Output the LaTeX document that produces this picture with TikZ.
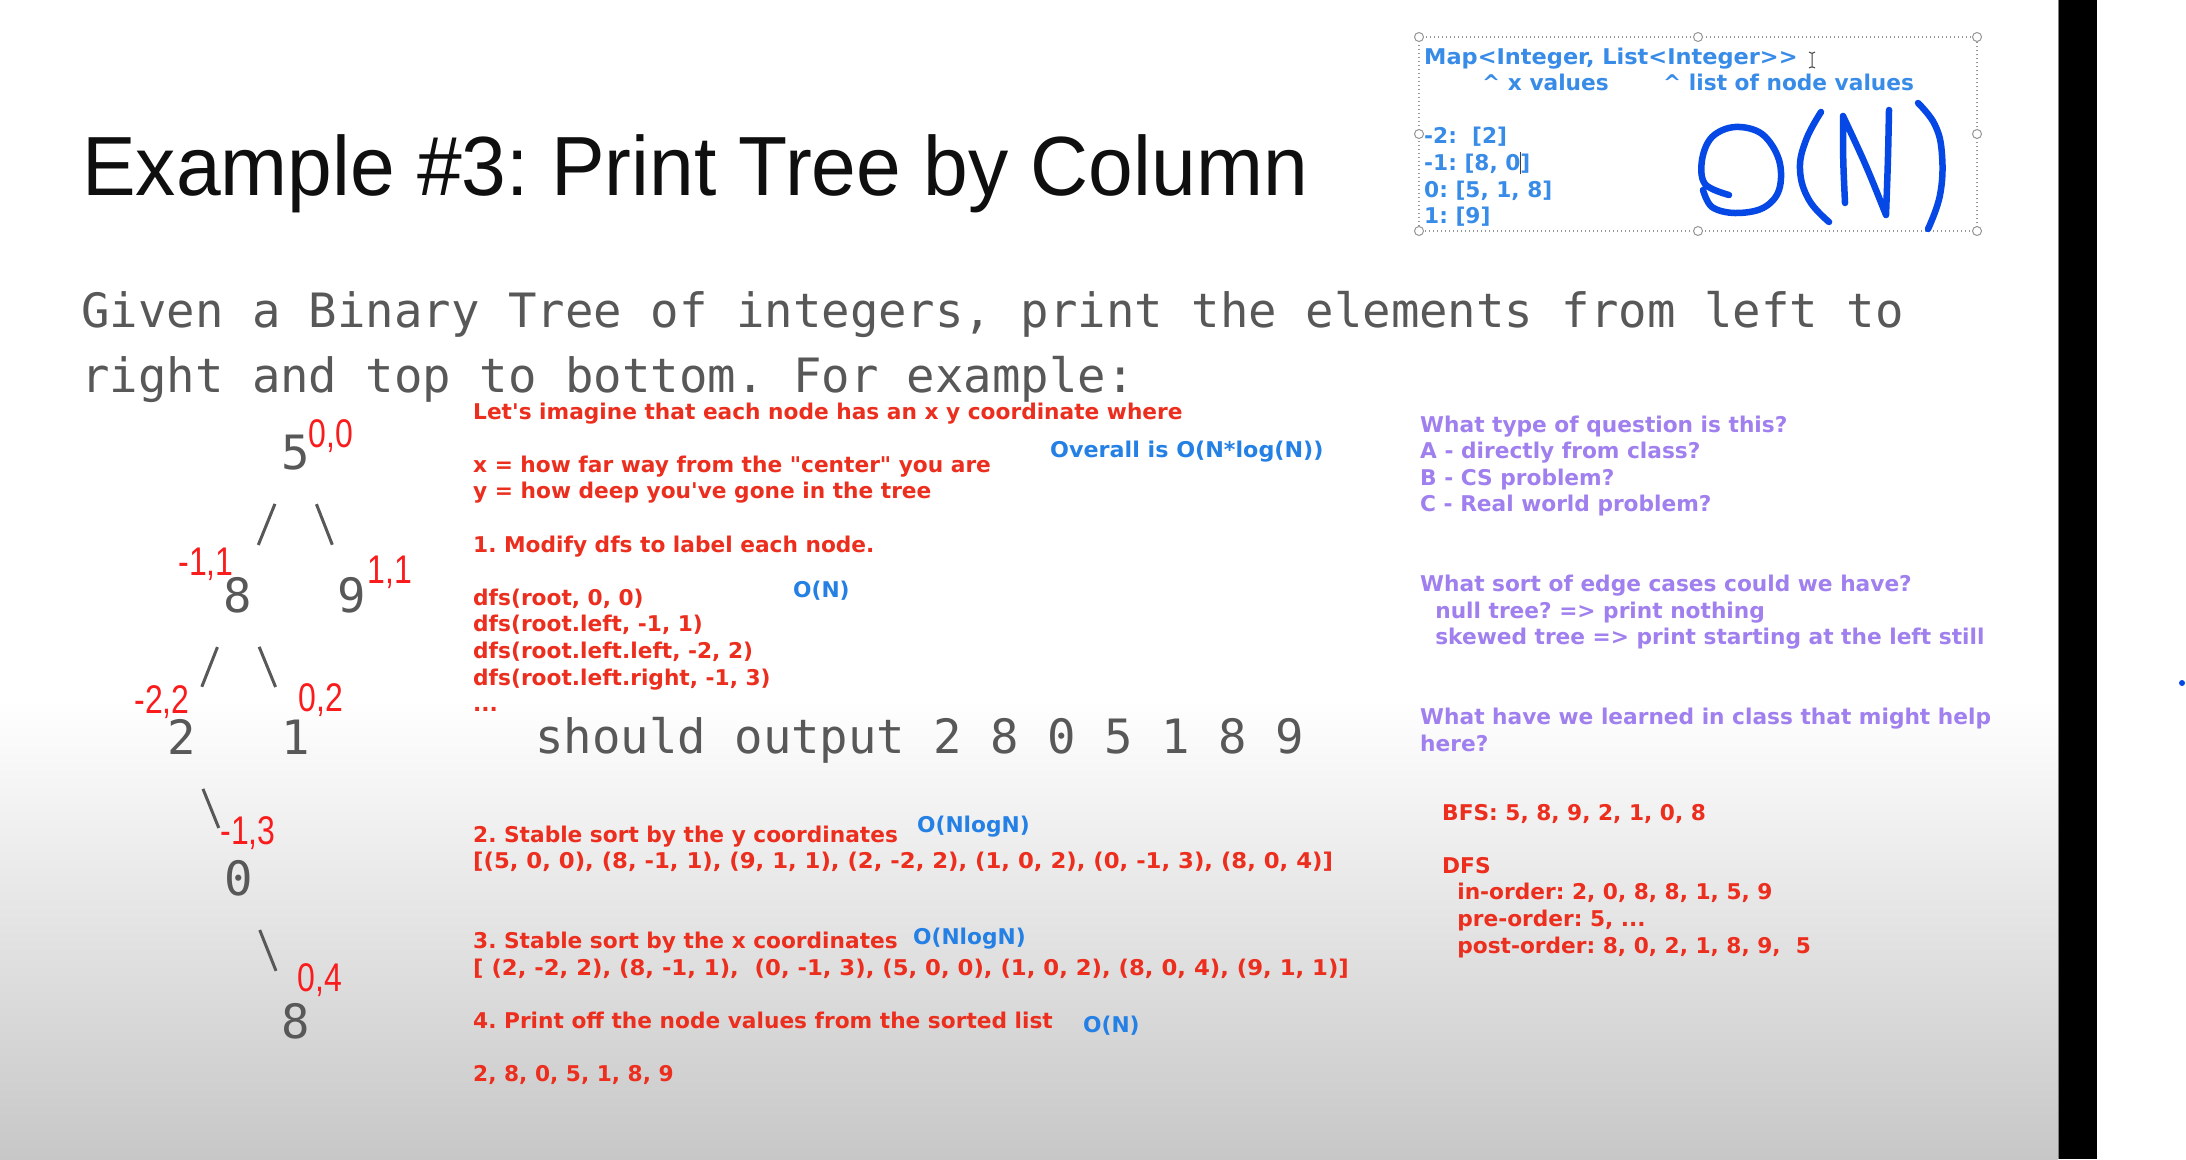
\documentclass[tikz,border=0pt]{standalone}
\usepackage{graphicx}
\usepackage{fontspec}
\setmainfont{DejaVu Sans}
\newfontfamily\titlefont[FakeStretch=0.957]{Liberation Sans}
\newfontfamily\codefont{DejaVu Sans Mono}
\newfontfamily\notefont{DejaVu Sans}
\newfontfamily\handfont[FakeStretch=0.8]{Liberation Sans}
\frenchspacing

\definecolor{titleblack}{RGB}{15,15,15}
\definecolor{codegray}{RGB}{88,88,88}
\definecolor{notered}{RGB}{236,46,30}
\definecolor{noteblue}{RGB}{36,128,228}
\definecolor{boxblue}{RGB}{56,140,232}
\definecolor{notepurple}{RGB}{160,128,238}
\definecolor{penred}{RGB}{250,28,28}
\definecolor{penblue}{RGB}{6,72,230}
\definecolor{framegray}{RGB}{150,150,150}
\definecolor{fadegray}{RGB}{199,199,199}

% stacked lines with a fixed baseline distance; first baseline is the node's base
\newcommand{\notelines}[1]{\begin{tabular}[t]{@{}l@{}}#1\end{tabular}}
% slightly widened line of text
\newcommand{\wideline}[2]{\scalebox{#1}[1]{#2}}

\begin{document}
\begin{tikzpicture}[x=1pt, y=-1pt,
  title/.style={anchor=base west, inner sep=0pt, text=titleblack,
    font=\titlefont\fontsize{84}{100}\selectfont},
  code/.style={inner sep=0pt, text=codegray,
    font=\codefont\fontsize{47.3}{64}\selectfont},
  treenum/.style={code, text height=34.5pt, text depth=0pt},
  branch/.style={draw=codegray, line width=3pt, shorten <=56pt, shorten >=54pt},
  note/.style={anchor=base west, inner sep=0pt,
    font=\notefont\bfseries\fontsize{21.7}{26.6}\selectfont},
  rednote/.style={note, text=notered},
  bluenote/.style={note, text=noteblue},
  boxnote/.style={note, text=boxblue},
  purplenote/.style={note, text=notepurple},
  hand/.style={inner sep=0pt, text=penred,
    font=\handfont\fontsize{40}{40}\selectfont},
  pen/.style={draw=penblue, line width=6.5pt, line cap=round, line join=round},
  handle/.style={draw=framegray, fill=white, line width=1pt},
]
\useasboundingbox (0,0) rectangle (2186,1159);

% slide background with the grey fade towards the bottom
\fill[white] (0,0) rectangle (2186,1159);
\shade[top color=white, bottom color=fadegray] (0,700) rectangle (2058,1159);
\fill[black] (2058,0) rectangle (2097,1159);
\draw[gray, line width=1pt] (2058.5,0) -- (2058.5,1159);
\fill[penblue] (2182,683) circle (3pt);

% heading and problem statement
\node[title] (title) at (82,195) {Example \#3: Print Tree by Column};
\node[code, anchor=base west] (given1) at (81,327)
  {Given a Binary Tree of integers, print the elements from left to};
\node[code, anchor=base west] (given2) at (81,392)
  {right and top to bottom. For example:};

% example tree
\node[treenum] (n5)  at (296,452)  {5};
\node[treenum] (n8)  at (238,595)  {8};
\node[treenum] (n9)  at (352,595)  {9};
\node[treenum] (n2)  at (182,737)  {2};
\node[treenum] (n1)  at (296,737)  {1};
\node[treenum] (n0)  at (239,878)  {0};
\node[treenum] (n8b) at (296,1021) {8};
\draw[branch] (n5.center) -- (n8.center);
\draw[branch] (n5.center) -- (n9.center);
\draw[branch] (n8.center) -- (n2.center);
\draw[branch] (n8.center) -- (n1.center);
\draw[branch] (n2.center) -- (n0.center);
\draw[branch] (n0.center) -- (n8b.center);

\node[code, anchor=base west] (output) at (535,753) {should output 2 8 0 5 1 8 9};

% (x, y) labels written next to the tree nodes
\node[hand] (c5)  at (331,436)  {0,0};
\node[hand] (c8)  at (206,564)  {-1,1};
\node[hand] (c9)  at (390,572)  {1,1};
\node[hand] (c2)  at (162,702)  {-2,2};
\node[hand] (c1)  at (321,700)  {0,2};
\node[hand] (c0)  at (248,833)  {-1,3};
\node[hand] (c8b) at (320,980)  {0,4};

% algorithm notes
\node[rednote] (steps1) at (473,419) {\notelines{%
  Let\textquotesingle s imagine that each node has an x y coordinate where\\
  \\
  x = how far way from the "center" you are\\
  y = how deep you\textquotesingle ve gone in the tree\\
  \\
  1. Modify dfs to label each node.\\
  \\
  dfs(root, 0, 0)\\
  dfs(root.left, -1, 1)\\
  dfs(root.left.left, -2, 2)\\
  dfs(root.left.right, -1, 3)\\
  ...}};
\node[rednote] (steps2) at (473,842) {\notelines{%
  2. Stable sort by the y coordinates\\
  \wideline{1.05}{[(5, 0, 0), (8, -1, 1), (9, 1, 1), (2, -2, 2), (1, 0, 2), (0, -1, 3), (8, 0, 4)]}\\
  \\
  \\
  3. Stable sort by the x coordinates\\
  \wideline{1.05}{[ (2, -2, 2), (8, -1, 1),\ \ (0, -1, 3), (5, 0, 0), (1, 0, 2), (8, 0, 4), (9, 1, 1)]}\\
  \\
  4. Print off the node values from the sorted list\\
  \\
  2, 8, 0, 5, 1, 8, 9}};

% running times
\node[bluenote] (overall) at (1050,457) {\wideline{1.025}{Overall is O(N*log(N))}};
\node[bluenote] (cost1) at (793,597) {O(N)};
\node[bluenote] (cost2) at (917,832) {O(NlogN)};
\node[bluenote] (cost3) at (913,944) {O(NlogN)};
\node[bluenote] (cost4) at (1083,1032) {O(N)};

% questions to ask
\node[purplenote] (questions) at (1420,432) {\notelines{%
  What type of question is this?\\
  A - directly from class?\\
  B - CS problem?\\
  C - Real world problem?\\
  \\
  \\
  What sort of edge cases could we have?\\
  \ \ null tree? => print nothing\\
  \ \ skewed tree => print starting at the left still\\
  \\
  \\
  What have we learned in class that might help\\
  here?}};

\node[rednote] (traversals) at (1442,820) {\notelines{%
  BFS: 5, 8, 9, 2, 1, 0, 8\\
  \\
  DFS\\
  \ \ in-order: 2, 0, 8, 8, 1, 5, 9\\
  \ \ pre-order: 5, ...\\
  \ \ post-order: 8, 0, 2, 1, 8, 9,\ \ 5}};

% selected text box with the column map
\draw[framegray, line width=1.2pt, dash pattern=on 1.4pt off 2.6pt]
  (1419,37) rectangle (1977,231);
\foreach \hx/\hy in {1419/37, 1698/37, 1977/37, 1419/134, 1977/134,
                     1419/231, 1698/231, 1977/231}
  \filldraw[handle] (\hx,\hy) circle (4.5pt);
\node[boxnote] (colmap) at (1424,64) {\notelines{%
  \wideline{1.035}{Map<Integer, List<Integer>{}>}\\
  \makebox[239pt][l]{\hspace*{58pt}\textasciicircum\ x values}\textasciicircum\ list of node values\\
  \\
  -2:\ \ {[}2]\\
  -1: {[}8, 0\makebox[0pt]{\color{darkgray}\rule[-4pt]{1.3pt}{22pt}}]\\
  0: {[}5, 1, 8]\\
  1: {[}9]}};

% mouse pointer (I-beam)
\draw[darkgray, line width=1pt] (1812,53) -- (1812,67)
  (1809,52) -- (1811,53) -- (1813,53) -- (1815,52)
  (1809,68) -- (1811,67) -- (1813,67) -- (1815,68);

% O(N) written with the pen
\draw[pen] plot[smooth, tension=0.6] coordinates {(1729,195) (1705,184) (1702,160)
  (1712,137) (1735,127) (1762,134) (1779,160) (1779,190) (1763,208) (1735,213)
  (1712,207) (1703,190)};
\draw[pen] plot[smooth, tension=0.7] coordinates {(1821,112) (1806,140) (1800,170)
  (1809,200) (1829,222)};
\draw[pen] (1845,203) .. controls (1843,160) .. (1843,116)
  .. controls (1866,165) .. (1886,215) .. controls (1888,160) .. (1889,110);
\draw[pen] plot[smooth, tension=0.7] coordinates {(1918,103) (1935,125) (1942,155)
  (1940,195) (1928,229)};
\end{tikzpicture}
\end{document}
